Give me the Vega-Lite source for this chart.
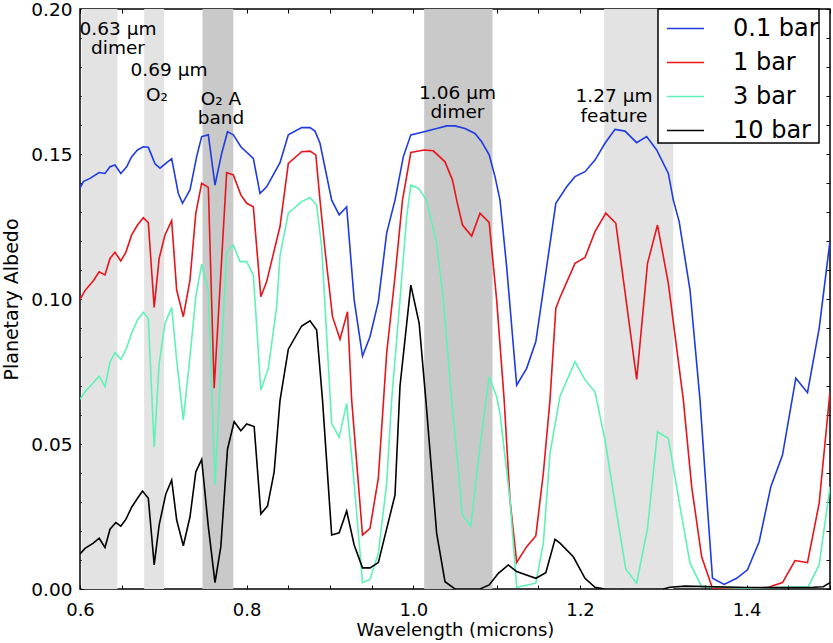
{
  "$schema": "https://vega.github.io/schema/vega-lite/v6.json",
  "width": 750,
  "height": 580,
  "autosize": "none",
  "padding": {"left": 80, "top": 9, "right": 3, "bottom": 54},
  "background": "white",
  "config": {
    "font": "DejaVu Sans",
    "view": {"stroke": "black", "strokeWidth": 1.5},
    "legend": {"strokeWidth": 1.5},
    "axis": {"grid": false, "domain": false, "tickColor": "black", "tickWidth": 1, "tickSize": -4, "labelColor": "black", "titleColor": "black", "labelFont": "DejaVu Sans", "titleFont": "DejaVu Sans", "titleFontWeight": "normal"}
  },
  "datasets": {
    "light": [
      {"x0": 0.602, "x1": 0.645},
      {"x0": 0.677, "x1": 0.701},
      {"x0": 1.229, "x1": 1.312}
    ],
    "dark": [
      {"x0": 0.747, "x1": 0.784},
      {"x0": 1.013, "x1": 1.095}
    ],
    "notes": [
      {"w": 0.6456, "a": 0.1932, "t": "0.63 μm\ndimer"},
      {"w": 0.7068, "a": 0.1790, "t": "0.69 μm"},
      {"w": 0.6924, "a": 0.1703, "t": "O₂"},
      {"w": 0.7692, "a": 0.1690, "t": "O₂ A\nband"},
      {"w": 1.0530, "a": 0.1712, "t": "1.06 μm\ndimer"},
      {"w": 1.2408, "a": 0.1700, "t": "1.27 μm\nfeature"}
    ],
    "spectra": [
      {"s": "0.1 bar", "w": 0.600, "a": 0.1382},
      {"s": "0.1 bar", "w": 0.604, "a": 0.1405},
      {"s": "0.1 bar", "w": 0.612, "a": 0.1416},
      {"s": "0.1 bar", "w": 0.623, "a": 0.1436},
      {"s": "0.1 bar", "w": 0.630, "a": 0.1433},
      {"s": "0.1 bar", "w": 0.636, "a": 0.1456},
      {"s": "0.1 bar", "w": 0.642, "a": 0.1462},
      {"s": "0.1 bar", "w": 0.649, "a": 0.1433},
      {"s": "0.1 bar", "w": 0.656, "a": 0.1456},
      {"s": "0.1 bar", "w": 0.662, "a": 0.1491},
      {"s": "0.1 bar", "w": 0.669, "a": 0.1514},
      {"s": "0.1 bar", "w": 0.676, "a": 0.1525},
      {"s": "0.1 bar", "w": 0.682, "a": 0.1523},
      {"s": "0.1 bar", "w": 0.690, "a": 0.1466},
      {"s": "0.1 bar", "w": 0.696, "a": 0.1451},
      {"s": "0.1 bar", "w": 0.703, "a": 0.1468},
      {"s": "0.1 bar", "w": 0.710, "a": 0.1484},
      {"s": "0.1 bar", "w": 0.718, "a": 0.1364},
      {"s": "0.1 bar", "w": 0.723, "a": 0.1330},
      {"s": "0.1 bar", "w": 0.732, "a": 0.1376},
      {"s": "0.1 bar", "w": 0.740, "a": 0.1491},
      {"s": "0.1 bar", "w": 0.746, "a": 0.1560},
      {"s": "0.1 bar", "w": 0.754, "a": 0.1566},
      {"s": "0.1 bar", "w": 0.762, "a": 0.1393},
      {"s": "0.1 bar", "w": 0.770, "a": 0.1502},
      {"s": "0.1 bar", "w": 0.777, "a": 0.1577},
      {"s": "0.1 bar", "w": 0.784, "a": 0.1566},
      {"s": "0.1 bar", "w": 0.793, "a": 0.1525},
      {"s": "0.1 bar", "w": 0.808, "a": 0.1485},
      {"s": "0.1 bar", "w": 0.816, "a": 0.1364},
      {"s": "0.1 bar", "w": 0.824, "a": 0.1387},
      {"s": "0.1 bar", "w": 0.840, "a": 0.1470},
      {"s": "0.1 bar", "w": 0.850, "a": 0.1566},
      {"s": "0.1 bar", "w": 0.866, "a": 0.1591},
      {"s": "0.1 bar", "w": 0.876, "a": 0.1591},
      {"s": "0.1 bar", "w": 0.882, "a": 0.1579},
      {"s": "0.1 bar", "w": 0.888, "a": 0.1537},
      {"s": "0.1 bar", "w": 0.902, "a": 0.1341},
      {"s": "0.1 bar", "w": 0.911, "a": 0.1290},
      {"s": "0.1 bar", "w": 0.920, "a": 0.1318},
      {"s": "0.1 bar", "w": 0.929, "a": 0.0997},
      {"s": "0.1 bar", "w": 0.939, "a": 0.0803},
      {"s": "0.1 bar", "w": 0.948, "a": 0.0870},
      {"s": "0.1 bar", "w": 0.958, "a": 0.0991},
      {"s": "0.1 bar", "w": 0.968, "a": 0.1227},
      {"s": "0.1 bar", "w": 0.978, "a": 0.1341},
      {"s": "0.1 bar", "w": 0.988, "a": 0.1491},
      {"s": "0.1 bar", "w": 0.997, "a": 0.1566},
      {"s": "0.1 bar", "w": 1.013, "a": 0.1577},
      {"s": "0.1 bar", "w": 1.028, "a": 0.1588},
      {"s": "0.1 bar", "w": 1.040, "a": 0.1597},
      {"s": "0.1 bar", "w": 1.050, "a": 0.1597},
      {"s": "0.1 bar", "w": 1.062, "a": 0.1588},
      {"s": "0.1 bar", "w": 1.074, "a": 0.1571},
      {"s": "0.1 bar", "w": 1.082, "a": 0.1542},
      {"s": "0.1 bar", "w": 1.091, "a": 0.1497},
      {"s": "0.1 bar", "w": 1.098, "a": 0.1422},
      {"s": "0.1 bar", "w": 1.104, "a": 0.1341},
      {"s": "0.1 bar", "w": 1.112, "a": 0.1111},
      {"s": "0.1 bar", "w": 1.124, "a": 0.0703},
      {"s": "0.1 bar", "w": 1.136, "a": 0.0761},
      {"s": "0.1 bar", "w": 1.147, "a": 0.0853},
      {"s": "0.1 bar", "w": 1.160, "a": 0.1111},
      {"s": "0.1 bar", "w": 1.171, "a": 0.1330},
      {"s": "0.1 bar", "w": 1.184, "a": 0.1387},
      {"s": "0.1 bar", "w": 1.194, "a": 0.1422},
      {"s": "0.1 bar", "w": 1.206, "a": 0.1439},
      {"s": "0.1 bar", "w": 1.218, "a": 0.1479},
      {"s": "0.1 bar", "w": 1.230, "a": 0.1537},
      {"s": "0.1 bar", "w": 1.242, "a": 0.1585},
      {"s": "0.1 bar", "w": 1.254, "a": 0.1579},
      {"s": "0.1 bar", "w": 1.268, "a": 0.1539},
      {"s": "0.1 bar", "w": 1.280, "a": 0.1560},
      {"s": "0.1 bar", "w": 1.292, "a": 0.1514},
      {"s": "0.1 bar", "w": 1.306, "a": 0.1433},
      {"s": "0.1 bar", "w": 1.312, "a": 0.1341},
      {"s": "0.1 bar", "w": 1.319, "a": 0.1267},
      {"s": "0.1 bar", "w": 1.332, "a": 0.1031},
      {"s": "0.1 bar", "w": 1.344, "a": 0.0652},
      {"s": "0.1 bar", "w": 1.352, "a": 0.0318},
      {"s": "0.1 bar", "w": 1.359, "a": 0.0037},
      {"s": "0.1 bar", "w": 1.373, "a": 0.0016},
      {"s": "0.1 bar", "w": 1.388, "a": 0.0037},
      {"s": "0.1 bar", "w": 1.401, "a": 0.0066},
      {"s": "0.1 bar", "w": 1.415, "a": 0.0163},
      {"s": "0.1 bar", "w": 1.429, "a": 0.0353},
      {"s": "0.1 bar", "w": 1.443, "a": 0.0462},
      {"s": "0.1 bar", "w": 1.459, "a": 0.0727},
      {"s": "0.1 bar", "w": 1.473, "a": 0.0677},
      {"s": "0.1 bar", "w": 1.487, "a": 0.0899},
      {"s": "0.1 bar", "w": 1.500, "a": 0.1200},

      {"s": "1 bar", "w": 0.600, "a": 0.0999},
      {"s": "1 bar", "w": 0.606, "a": 0.1029},
      {"s": "1 bar", "w": 0.616, "a": 0.1063},
      {"s": "1 bar", "w": 0.623, "a": 0.1094},
      {"s": "1 bar", "w": 0.630, "a": 0.1083},
      {"s": "1 bar", "w": 0.636, "a": 0.1140},
      {"s": "1 bar", "w": 0.642, "a": 0.1161},
      {"s": "1 bar", "w": 0.649, "a": 0.1131},
      {"s": "1 bar", "w": 0.655, "a": 0.1161},
      {"s": "1 bar", "w": 0.662, "a": 0.1221},
      {"s": "1 bar", "w": 0.669, "a": 0.1255},
      {"s": "1 bar", "w": 0.676, "a": 0.1280},
      {"s": "1 bar", "w": 0.682, "a": 0.1263},
      {"s": "1 bar", "w": 0.689, "a": 0.0971},
      {"s": "1 bar", "w": 0.695, "a": 0.1140},
      {"s": "1 bar", "w": 0.702, "a": 0.1221},
      {"s": "1 bar", "w": 0.710, "a": 0.1270},
      {"s": "1 bar", "w": 0.716, "a": 0.1031},
      {"s": "1 bar", "w": 0.724, "a": 0.0939},
      {"s": "1 bar", "w": 0.732, "a": 0.1066},
      {"s": "1 bar", "w": 0.739, "a": 0.1296},
      {"s": "1 bar", "w": 0.746, "a": 0.1399},
      {"s": "1 bar", "w": 0.754, "a": 0.1385},
      {"s": "1 bar", "w": 0.761, "a": 0.0692},
      {"s": "1 bar", "w": 0.776, "a": 0.1436},
      {"s": "1 bar", "w": 0.784, "a": 0.1428},
      {"s": "1 bar", "w": 0.793, "a": 0.1359},
      {"s": "1 bar", "w": 0.800, "a": 0.1330},
      {"s": "1 bar", "w": 0.808, "a": 0.1318},
      {"s": "1 bar", "w": 0.817, "a": 0.1008},
      {"s": "1 bar", "w": 0.824, "a": 0.1060},
      {"s": "1 bar", "w": 0.840, "a": 0.1250},
      {"s": "1 bar", "w": 0.850, "a": 0.1468},
      {"s": "1 bar", "w": 0.866, "a": 0.1508},
      {"s": "1 bar", "w": 0.876, "a": 0.1510},
      {"s": "1 bar", "w": 0.883, "a": 0.1497},
      {"s": "1 bar", "w": 0.888, "a": 0.1341},
      {"s": "1 bar", "w": 0.894, "a": 0.1169},
      {"s": "1 bar", "w": 0.903, "a": 0.0939},
      {"s": "1 bar", "w": 0.912, "a": 0.0861},
      {"s": "1 bar", "w": 0.921, "a": 0.0956},
      {"s": "1 bar", "w": 0.926, "a": 0.0652},
      {"s": "1 bar", "w": 0.939, "a": 0.0186},
      {"s": "1 bar", "w": 0.948, "a": 0.0209},
      {"s": "1 bar", "w": 0.958, "a": 0.0382},
      {"s": "1 bar", "w": 0.968, "a": 0.0813},
      {"s": "1 bar", "w": 0.978, "a": 0.1077},
      {"s": "1 bar", "w": 0.987, "a": 0.1341},
      {"s": "1 bar", "w": 0.997, "a": 0.1505},
      {"s": "1 bar", "w": 1.013, "a": 0.1514},
      {"s": "1 bar", "w": 1.024, "a": 0.1511},
      {"s": "1 bar", "w": 1.038, "a": 0.1473},
      {"s": "1 bar", "w": 1.047, "a": 0.1410},
      {"s": "1 bar", "w": 1.052, "a": 0.1341},
      {"s": "1 bar", "w": 1.059, "a": 0.1255},
      {"s": "1 bar", "w": 1.070, "a": 0.1217},
      {"s": "1 bar", "w": 1.080, "a": 0.1296},
      {"s": "1 bar", "w": 1.091, "a": 0.1264},
      {"s": "1 bar", "w": 1.100, "a": 0.0997},
      {"s": "1 bar", "w": 1.109, "a": 0.0652},
      {"s": "1 bar", "w": 1.116, "a": 0.0307},
      {"s": "1 bar", "w": 1.124, "a": 0.0092},
      {"s": "1 bar", "w": 1.136, "a": 0.0146},
      {"s": "1 bar", "w": 1.147, "a": 0.0183},
      {"s": "1 bar", "w": 1.156, "a": 0.0399},
      {"s": "1 bar", "w": 1.164, "a": 0.0652},
      {"s": "1 bar", "w": 1.171, "a": 0.0968},
      {"s": "1 bar", "w": 1.176, "a": 0.1005},
      {"s": "1 bar", "w": 1.194, "a": 0.1123},
      {"s": "1 bar", "w": 1.206, "a": 0.1143},
      {"s": "1 bar", "w": 1.218, "a": 0.1232},
      {"s": "1 bar", "w": 1.231, "a": 0.1296},
      {"s": "1 bar", "w": 1.243, "a": 0.1261},
      {"s": "1 bar", "w": 1.268, "a": 0.0723},
      {"s": "1 bar", "w": 1.281, "a": 0.1123},
      {"s": "1 bar", "w": 1.293, "a": 0.1255},
      {"s": "1 bar", "w": 1.306, "a": 0.1054},
      {"s": "1 bar", "w": 1.324, "a": 0.0652},
      {"s": "1 bar", "w": 1.334, "a": 0.0353},
      {"s": "1 bar", "w": 1.346, "a": 0.0111},
      {"s": "1 bar", "w": 1.359, "a": 0.0002},
      {"s": "1 bar", "w": 1.380, "a": 0.0000},
      {"s": "1 bar", "w": 1.400, "a": 0.0000},
      {"s": "1 bar", "w": 1.426, "a": 0.0006},
      {"s": "1 bar", "w": 1.443, "a": 0.0022},
      {"s": "1 bar", "w": 1.458, "a": 0.0098},
      {"s": "1 bar", "w": 1.473, "a": 0.0091},
      {"s": "1 bar", "w": 1.487, "a": 0.0296},
      {"s": "1 bar", "w": 1.500, "a": 0.0680},

      {"s": "3 bar", "w": 0.600, "a": 0.0654},
      {"s": "3 bar", "w": 0.606, "a": 0.0680},
      {"s": "3 bar", "w": 0.616, "a": 0.0711},
      {"s": "3 bar", "w": 0.623, "a": 0.0734},
      {"s": "3 bar", "w": 0.630, "a": 0.0698},
      {"s": "3 bar", "w": 0.636, "a": 0.0782},
      {"s": "3 bar", "w": 0.642, "a": 0.0815},
      {"s": "3 bar", "w": 0.649, "a": 0.0792},
      {"s": "3 bar", "w": 0.655, "a": 0.0824},
      {"s": "3 bar", "w": 0.662, "a": 0.0882},
      {"s": "3 bar", "w": 0.669, "a": 0.0928},
      {"s": "3 bar", "w": 0.676, "a": 0.0954},
      {"s": "3 bar", "w": 0.682, "a": 0.0933},
      {"s": "3 bar", "w": 0.689, "a": 0.0489},
      {"s": "3 bar", "w": 0.695, "a": 0.0778},
      {"s": "3 bar", "w": 0.702, "a": 0.0916},
      {"s": "3 bar", "w": 0.710, "a": 0.0971},
      {"s": "3 bar", "w": 0.716, "a": 0.0790},
      {"s": "3 bar", "w": 0.724, "a": 0.0583},
      {"s": "3 bar", "w": 0.732, "a": 0.0801},
      {"s": "3 bar", "w": 0.739, "a": 0.1008},
      {"s": "3 bar", "w": 0.746, "a": 0.1120},
      {"s": "3 bar", "w": 0.754, "a": 0.1031},
      {"s": "3 bar", "w": 0.762, "a": 0.0359},
      {"s": "3 bar", "w": 0.776, "a": 0.1163},
      {"s": "3 bar", "w": 0.784, "a": 0.1186},
      {"s": "3 bar", "w": 0.792, "a": 0.1129},
      {"s": "3 bar", "w": 0.800, "a": 0.1129},
      {"s": "3 bar", "w": 0.808, "a": 0.1083},
      {"s": "3 bar", "w": 0.817, "a": 0.0686},
      {"s": "3 bar", "w": 0.826, "a": 0.0761},
      {"s": "3 bar", "w": 0.836, "a": 0.0973},
      {"s": "3 bar", "w": 0.840, "a": 0.1150},
      {"s": "3 bar", "w": 0.850, "a": 0.1296},
      {"s": "3 bar", "w": 0.866, "a": 0.1336},
      {"s": "3 bar", "w": 0.876, "a": 0.1350},
      {"s": "3 bar", "w": 0.884, "a": 0.1324},
      {"s": "3 bar", "w": 0.890, "a": 0.1180},
      {"s": "3 bar", "w": 0.902, "a": 0.0571},
      {"s": "3 bar", "w": 0.911, "a": 0.0523},
      {"s": "3 bar", "w": 0.920, "a": 0.0640},
      {"s": "3 bar", "w": 0.929, "a": 0.0364},
      {"s": "3 bar", "w": 0.939, "a": 0.0022},
      {"s": "3 bar", "w": 0.948, "a": 0.0033},
      {"s": "3 bar", "w": 0.958, "a": 0.0123},
      {"s": "3 bar", "w": 0.968, "a": 0.0364},
      {"s": "3 bar", "w": 0.974, "a": 0.0652},
      {"s": "3 bar", "w": 0.984, "a": 0.0997},
      {"s": "3 bar", "w": 0.992, "a": 0.1284},
      {"s": "3 bar", "w": 0.997, "a": 0.1393},
      {"s": "3 bar", "w": 1.006, "a": 0.1382},
      {"s": "3 bar", "w": 1.016, "a": 0.1341},
      {"s": "3 bar", "w": 1.028, "a": 0.1192},
      {"s": "3 bar", "w": 1.036, "a": 0.0997},
      {"s": "3 bar", "w": 1.046, "a": 0.0652},
      {"s": "3 bar", "w": 1.059, "a": 0.0255},
      {"s": "3 bar", "w": 1.069, "a": 0.0217},
      {"s": "3 bar", "w": 1.080, "a": 0.0491},
      {"s": "3 bar", "w": 1.091, "a": 0.0732},
      {"s": "3 bar", "w": 1.100, "a": 0.0663},
      {"s": "3 bar", "w": 1.104, "a": 0.0606},
      {"s": "3 bar", "w": 1.116, "a": 0.0307},
      {"s": "3 bar", "w": 1.124, "a": 0.0006},
      {"s": "3 bar", "w": 1.147, "a": 0.0020},
      {"s": "3 bar", "w": 1.156, "a": 0.0158},
      {"s": "3 bar", "w": 1.164, "a": 0.0468},
      {"s": "3 bar", "w": 1.176, "a": 0.0665},
      {"s": "3 bar", "w": 1.194, "a": 0.0784},
      {"s": "3 bar", "w": 1.206, "a": 0.0721},
      {"s": "3 bar", "w": 1.218, "a": 0.0680},
      {"s": "3 bar", "w": 1.230, "a": 0.0514},
      {"s": "3 bar", "w": 1.242, "a": 0.0296},
      {"s": "3 bar", "w": 1.255, "a": 0.0068},
      {"s": "3 bar", "w": 1.268, "a": 0.0020},
      {"s": "3 bar", "w": 1.281, "a": 0.0209},
      {"s": "3 bar", "w": 1.293, "a": 0.0542},
      {"s": "3 bar", "w": 1.306, "a": 0.0520},
      {"s": "3 bar", "w": 1.320, "a": 0.0284},
      {"s": "3 bar", "w": 1.332, "a": 0.0089},
      {"s": "3 bar", "w": 1.346, "a": 0.0008},
      {"s": "3 bar", "w": 1.400, "a": 0.0003},
      {"s": "3 bar", "w": 1.474, "a": 0.0008},
      {"s": "3 bar", "w": 1.487, "a": 0.0083},
      {"s": "3 bar", "w": 1.500, "a": 0.0353},

      {"s": "10 bar", "w": 0.600, "a": 0.0121},
      {"s": "10 bar", "w": 0.606, "a": 0.0140},
      {"s": "10 bar", "w": 0.616, "a": 0.0158},
      {"s": "10 bar", "w": 0.623, "a": 0.0175},
      {"s": "10 bar", "w": 0.630, "a": 0.0143},
      {"s": "10 bar", "w": 0.636, "a": 0.0206},
      {"s": "10 bar", "w": 0.643, "a": 0.0229},
      {"s": "10 bar", "w": 0.649, "a": 0.0217},
      {"s": "10 bar", "w": 0.655, "a": 0.0240},
      {"s": "10 bar", "w": 0.662, "a": 0.0282},
      {"s": "10 bar", "w": 0.669, "a": 0.0313},
      {"s": "10 bar", "w": 0.675, "a": 0.0338},
      {"s": "10 bar", "w": 0.682, "a": 0.0313},
      {"s": "10 bar", "w": 0.689, "a": 0.0083},
      {"s": "10 bar", "w": 0.695, "a": 0.0221},
      {"s": "10 bar", "w": 0.703, "a": 0.0328},
      {"s": "10 bar", "w": 0.710, "a": 0.0376},
      {"s": "10 bar", "w": 0.716, "a": 0.0238},
      {"s": "10 bar", "w": 0.724, "a": 0.0149},
      {"s": "10 bar", "w": 0.732, "a": 0.0249},
      {"s": "10 bar", "w": 0.739, "a": 0.0404},
      {"s": "10 bar", "w": 0.746, "a": 0.0447},
      {"s": "10 bar", "w": 0.754, "a": 0.0215},
      {"s": "10 bar", "w": 0.762, "a": 0.0022},
      {"s": "10 bar", "w": 0.769, "a": 0.0146},
      {"s": "10 bar", "w": 0.777, "a": 0.0482},
      {"s": "10 bar", "w": 0.785, "a": 0.0577},
      {"s": "10 bar", "w": 0.793, "a": 0.0546},
      {"s": "10 bar", "w": 0.800, "a": 0.0569},
      {"s": "10 bar", "w": 0.809, "a": 0.0560},
      {"s": "10 bar", "w": 0.817, "a": 0.0259},
      {"s": "10 bar", "w": 0.825, "a": 0.0286},
      {"s": "10 bar", "w": 0.833, "a": 0.0404},
      {"s": "10 bar", "w": 0.840, "a": 0.0650},
      {"s": "10 bar", "w": 0.850, "a": 0.0827},
      {"s": "10 bar", "w": 0.866, "a": 0.0907},
      {"s": "10 bar", "w": 0.876, "a": 0.0925},
      {"s": "10 bar", "w": 0.884, "a": 0.0893},
      {"s": "10 bar", "w": 0.891, "a": 0.0652},
      {"s": "10 bar", "w": 0.902, "a": 0.0186},
      {"s": "10 bar", "w": 0.911, "a": 0.0194},
      {"s": "10 bar", "w": 0.920, "a": 0.0269},
      {"s": "10 bar", "w": 0.929, "a": 0.0152},
      {"s": "10 bar", "w": 0.939, "a": 0.0073},
      {"s": "10 bar", "w": 0.948, "a": 0.0073},
      {"s": "10 bar", "w": 0.958, "a": 0.0091},
      {"s": "10 bar", "w": 0.978, "a": 0.0324},
      {"s": "10 bar", "w": 0.984, "a": 0.0700},
      {"s": "10 bar", "w": 0.997, "a": 0.1048},
      {"s": "10 bar", "w": 1.007, "a": 0.0916},
      {"s": "10 bar", "w": 1.015, "a": 0.0652},
      {"s": "10 bar", "w": 1.028, "a": 0.0192},
      {"s": "10 bar", "w": 1.038, "a": 0.0025},
      {"s": "10 bar", "w": 1.050, "a": 0.0000},
      {"s": "10 bar", "w": 1.080, "a": 0.0000},
      {"s": "10 bar", "w": 1.091, "a": 0.0014},
      {"s": "10 bar", "w": 1.102, "a": 0.0054},
      {"s": "10 bar", "w": 1.114, "a": 0.0083},
      {"s": "10 bar", "w": 1.124, "a": 0.0060},
      {"s": "10 bar", "w": 1.147, "a": 0.0037},
      {"s": "10 bar", "w": 1.159, "a": 0.0056},
      {"s": "10 bar", "w": 1.170, "a": 0.0171},
      {"s": "10 bar", "w": 1.176, "a": 0.0158},
      {"s": "10 bar", "w": 1.192, "a": 0.0111},
      {"s": "10 bar", "w": 1.206, "a": 0.0037},
      {"s": "10 bar", "w": 1.218, "a": 0.0006},
      {"s": "10 bar", "w": 1.230, "a": 0.0000},
      {"s": "10 bar", "w": 1.300, "a": 0.0000},
      {"s": "10 bar", "w": 1.308, "a": 0.0006},
      {"s": "10 bar", "w": 1.326, "a": 0.0010},
      {"s": "10 bar", "w": 1.400, "a": 0.0005},
      {"s": "10 bar", "w": 1.480, "a": 0.0006},
      {"s": "10 bar", "w": 1.492, "a": 0.0008},
      {"s": "10 bar", "w": 1.500, "a": 0.0022}
    ]
  },
  "layer": [
    {
      "data": {"name": "light"},
      "mark": {"type": "rect", "color": "#e3e3e3"},
      "encoding": {
        "x": {"field": "x0", "type": "quantitative", "scale": {"domain": [0.6, 1.5], "nice": false, "zero": false},
              "axis": {"orient": "top", "values": [0.6, 0.65, 0.7, 0.75, 0.8, 0.85, 0.9, 0.95, 1.0, 1.05, 1.1, 1.15, 1.2, 1.25, 1.3, 1.35, 1.4, 1.45, 1.5], "labels": false, "title": null}},
        "x2": {"field": "x1"}
      }
    },
    {
      "data": {"name": "dark"},
      "mark": {"type": "rect", "color": "#c9c9c9"},
      "encoding": {
        "x": {"field": "x0", "type": "quantitative", "axis": null},
        "x2": {"field": "x1"}
      }
    },
    {
      "data": {"name": "spectra"},
      "mark": {"type": "line", "strokeWidth": 1.6, "clip": true},
      "encoding": {
        "x": {"field": "w", "type": "quantitative",
              "axis": {"orient": "bottom", "values": [0.6, 0.65, 0.7, 0.75, 0.8, 0.85, 0.9, 0.95, 1.0, 1.05, 1.1, 1.15, 1.2, 1.25, 1.3, 1.35, 1.4, 1.45, 1.5],
                       "labelExpr": "round(datum.value * 100) % 20 == 0 && datum.value < 1.45 ? format(datum.value, '.1f') : ''",
                       "labelFontSize": 18, "labelPadding": 16, "labelFlush": false, "labelOverlap": false,
                       "title": "Wavelength (microns)", "titleFontSize": 18, "titlePadding": 2}},
        "y": {"field": "a", "type": "quantitative", "scale": {"domain": [0, 0.2], "nice": false, "zero": false},
              "axis": {"orient": "left", "values": [0, 0.01, 0.02, 0.03, 0.04, 0.05, 0.06, 0.07, 0.08, 0.09, 0.1, 0.11, 0.12, 0.13, 0.14, 0.15, 0.16, 0.17, 0.18, 0.19, 0.2],
                       "labelExpr": "round(datum.value * 100) % 5 == 0 ? format(datum.value, '.2f') : ''",
                       "labelFontSize": 18.5, "labelPadding": 12, "labelFlush": false, "labelOverlap": false,
                       "title": "Planetary Albedo", "titleFontSize": 19, "titlePadding": 9}},
        "color": {"field": "s", "type": "nominal",
                  "scale": {"domain": ["0.1 bar", "1 bar", "3 bar", "10 bar"], "range": ["#1f3be0", "#e8141c", "#5ef2b6", "#000000"]},
                  "legend": {"orient": "none", "legendX": 578, "legendY": 0, "title": null, "direction": "vertical",
                             "strokeColor": "black", "fillColor": "white", "cornerRadius": 0, "padding": 0,
                             "symbolType": "stroke", "symbolSize": 1369, "symbolStrokeWidth": 1.6, "symbolOffset": 8,
                             "labelFontSize": 24, "labelColor": "black", "labelOffset": 28, "rowPadding": 2,
                             "labelExpr": "datum.label + '  '"}},
        "detail": {"field": "s"}
      }
    },
    {
      "data": {"name": "notes"},
      "mark": {"type": "text", "fontSize": 18.5, "color": "black", "align": "center", "baseline": "middle", "lineBreak": "\n", "lineHeight": 19.5},
      "encoding": {
        "x": {"field": "w", "type": "quantitative", "axis": null},
        "y": {"field": "a", "type": "quantitative", "axis": null},
        "text": {"field": "t"}
      }
    },
    {
      "data": {"name": "light"},
      "mark": {"type": "rule", "opacity": 0},
      "encoding": {
        "y": {"datum": 0.1, "type": "quantitative",
              "axis": {"orient": "right", "values": [0, 0.01, 0.02, 0.03, 0.04, 0.05, 0.06, 0.07, 0.08, 0.09, 0.1, 0.11, 0.12, 0.13, 0.14, 0.15, 0.16, 0.17, 0.18, 0.19, 0.2], "labels": false, "title": null}}
      }
    }
  ],
  "resolve": {"axis": {"x": "independent", "y": "independent"}}
}
